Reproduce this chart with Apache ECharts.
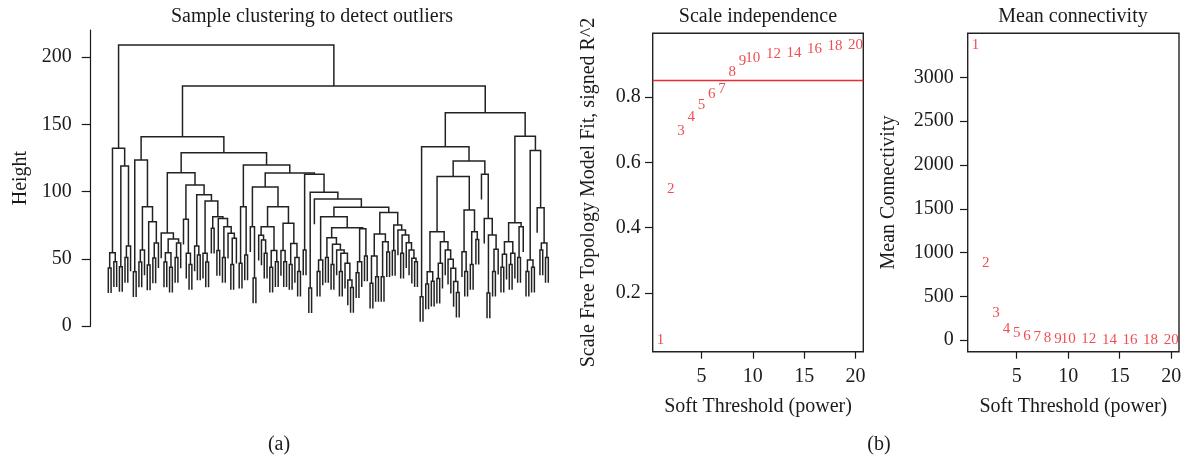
<!DOCTYPE html>
<html>
<head>
<meta charset="utf-8">
<script src="https://cdn.jsdelivr.net/npm/echarts@6/dist/echarts.min.js"></script>
<style>
  html, body { margin: 0; padding: 0; background: #ffffff; }
  #chart { width: 1188px; height: 460px; }
</style>
</head>
<body>
<div id="chart"></div>
<script>
// ---------------------------------------------------------------
// Sample clustering tree. Each merge is [height, left, right];
// a 0 marks a single sample (leaf). Branch order = drawing order.
// ---------------------------------------------------------------
const clusterA = [132.1,
  [54.5, [43.2, 0, 0], [47.8, 0, 0]],
  [118.9, [44.1, 0, 0], [59.5, [50.9, 0, 0], 0]]
];

const clusterC1 = [123.4,
  [40.3, 0, 0],
  [88.7,
    [56.5, [47.6, 0, 0], 0],
    [77.5, [45.3, 0, 0], [61.8, [50.5, 0, 0], 0]]
  ]
];

const clusterC2aLeft = [69.1, 0,
  [64.6,
    [54.5, [47.6, 0, 0], [43.7, 0, 0]],
    [61.7, [50.9, 0, 0], 0]
  ]
];

const clusterC2aRight = [104.8,
  [79.3, 0, [54.1, 0, [45.7, 0, 0]]],
  [97.5,
    [59.5, 0, [52.8, 0, 0]],
    [93.0,
      [54.1, 0, [47.6, 0, 0]],
      [81.3,
        [72.6, 0, 0],
        [80.0,
          [56.1, 0, 0],
          [73.8, [50.9, 0, 0], [68.9, 0, [65.2, [45.7, 0, 0], 0]]]
        ]
      ]
    ]
  ]
];

const clusterC2bLeft = [88.7, [46.6, 0, 0], [52.8, 0, 0]];

const clusterC2bMid = [103.4,
  [73.8, 0, [35.7, 0, 0]],
  [88.7,
    [73.8, [67.5, 0, [63.9, 0, [54.1, 0, 0]]], [56.1, [43.7, 0, 0], [47.8, 0, 0]]],
    [76.4, [56.1, 0, [47.8, 0, 0]], [61.3, [45.7, 0, 0], [50.9, 0, [40.6, 0, 0]]]]
  ]
];

const clusterQ8 = [65.7, [50.9, 0, 0],
  [60.8, [45.7, 0, 0],
    [56.5, 0, [54.1, [40.6, 0, 0], [46.6, 0, [34.2, 0, [28.6, 0, 0]]]]]
  ]
];
const clusterQ9 = [72.3, [47.8, [39.5, 0, 0], 0], [52.0, 0, 0]];
const clusterQ12 = [52.0, [31.8, 0, 0], [36.7, 0, 0]];
const clusterQ13 = [62.7, [36.7, 0, 0], [55.1, 0, 0]];
const clusterQ11 = [75.1, [56.1, 0, 0],
  [71.4, 0, [67.7, [54.1, 0, 0], [61.9, 0, [56.5, 0, [50.3, 0, [47.8, 0, 0]]]]]]
];

const clusterQ = [99.4,
  [28.3, 0, 0],
  [94.4, 0,
    [88.2,
      [81.3, [49.1, [40.6, 0, 0], 0], [73.1, clusterQ8, clusterQ9]],
      [84.3, [68.4, clusterQ12, clusterQ13], clusterQ11]
    ]
  ]
];

const clusterD1 = [133.3,
  [21.8, 0, 0],
  [122.7,
    [111.1,
      [70.1,
        [40.3, [31.2, 0, 0], [33.3, 0, 0]],
        [62.7, [46.6, [35.4, 0, 0], 0], [56.5, 0, [49.6, 0, [42.9, 0, [33.0, 0, [25.0, 0, 0]]]]]]
      ],
      [86.2, [55.2, 0, [40.6, 0, 0]], [70.1, [45.7, 0, 0], [64.4, 0, 0]]]
    ],
    [112.8, 0, [80.0, 0, [67.7, [24.5, 0, 0], [57.1, [40.6, 0, 0], 0]]]]
  ]
];

const clusterD2 = [141.0,
  [76.8,
    [62.7, [53.3, [43.7, 0, 0], 0], [54.1, [45.7, 0, 0], 0]],
    [73.8, [50.9, 0, 0], 0]
  ],
  [130.4,
    [49.1, [40.6, 0, 0], [43.7, 0, 0]],
    [88.0, 0, [61.7, [56.5, 0, 0], [50.9, 0, 0]]]
  ]
];

// upper merges joining the clusters above
const clusterC2 = [128.8,
  [114.0, clusterC2aLeft, clusterC2aRight],
  [119.7, clusterC2bLeft, [113.8, clusterC2bMid, [112.8, [56.5, 0, 0], clusterQ]]]
];
const clusterC = [140.7, clusterC1, clusterC2];
const clusterD = [158.6, clusterD1, clusterD2];
const sampleTree = [209.0, clusterA, [178.4, clusterC, clusterD]];

const heightTicks = [0, 50, 100, 150, 200];

// ---------------------------------------------------------------
// Soft-threshold scan
// ---------------------------------------------------------------
const powers = [1, 2, 3, 4, 5, 6, 7, 8, 9, 10, 12, 14, 16, 18, 20];
const scaleFreeFit = [0.056, 0.518, 0.697, 0.740, 0.776, 0.809, 0.824, 0.875, 0.909, 0.919, 0.932, 0.935, 0.947, 0.957, 0.959];
const meanConnectivity = [3370, 880, 312, 130, 80, 45, 35, 22, 16, 13, 8, 5.5, 4, 3, 2];
const fitCutoff = 0.85;
const powerTicks = [5, 10, 15, 20];
const fitTicks = [0.2, 0.4, 0.6, 0.8];
const connectivityTicks = [0, 500, 1000, 1500, 2000, 2500, 3000];

// ---------------------------------------------------------------
// Dendrogram layout: leaves at 0..n-1, merges centred over children,
// leaves hang 10% of the merge-height range below their parent.
// ---------------------------------------------------------------
function collectHeights(node, out) {
  if (node === 0) return out;
  out.push(node[0]);
  collectHeights(node[1], out);
  collectHeights(node[2], out);
  return out;
}
const mergeHeights = collectHeights(sampleTree, []);
const hang = 0.1 * (Math.max(...mergeHeights) - Math.min(...mergeHeights));

let leafCount = 0;
const branches = [];
function place(node) {
  if (node === 0) return { x: leafCount++, h: null };
  const h = node[0];
  const l = place(node[1]);
  const r = place(node[2]);
  const ly = l.h === null ? h - hang : l.h;
  const ry = r.h === null ? h - hang : r.h;
  branches.push({ coords: [[l.x, ly], [l.x, h], [r.x, h], [r.x, ry]] });
  return { x: (l.x + r.x) / 2, h: h };
}
place(sampleTree);
const leafPad = 0.04 * (leafCount - 1);

// R-style 4% axis extension
function padded(values) {
  const lo = Math.min(...values), hi = Math.max(...values);
  const d = 0.04 * (hi - lo);
  return [lo - d, hi + d];
}
const powerRange = padded(powers);
const fitRange = padded(scaleFreeFit);
const connRange = padded(meanConnectivity);

// ---------------------------------------------------------------
const FONT = '"Liberation Serif", "DejaVu Serif", serif';
const INK = '#1a1a1a';
const RED = '#ea1f27';

function labelStyle(margin, values, fmt) {
  return {
    show: true, customValues: values, margin: margin,
    color: INK, fontFamily: FONT, fontSize: 20,
    formatter: fmt || (v => String(v))
  };
}
function tickStyle(values, len) {
  return { show: true, customValues: values, length: len, inside: false,
           lineStyle: { color: INK, width: 1.2 } };
}
function textLabel(fmt) {
  return {
    show: true, position: 'inside', formatter: fmt,
    color: RED, fontFamily: FONT, fontSize: 15
  };
}
const axisName = { color: INK, fontFamily: FONT, fontSize: 20 };
const hiddenLine = { show: false, onZero: false };

const chart = echarts.init(document.getElementById('chart'), null, { renderer: 'canvas' });

chart.setOption({
  animation: false,
  backgroundColor: '#ffffff',
  textStyle: { fontFamily: FONT },
  grid: [
    { left: 90.7, right: 622.1, top: 30.1, bottom: 134, show: false,
      containLabel: false, outerBoundsMode: 'none' },
    { left: 652.7, width: 210.6, top: 33.3, height: 318.4, show: true,
      borderColor: '#222', borderWidth: 1.4, backgroundColor: 'transparent',
      containLabel: false, outerBoundsMode: 'none' },
    { left: 967.7, width: 211.3, top: 33.3, height: 318.4, show: true,
      borderColor: '#222', borderWidth: 1.4, backgroundColor: 'transparent',
      containLabel: false, outerBoundsMode: 'none' }
  ],
  xAxis: [
    { gridIndex: 0, type: 'value', min: -leafPad, max: leafCount - 1 + leafPad, show: false,
      axisLine: hiddenLine },
    { gridIndex: 1, type: 'value', position: 'bottom', min: powerRange[0], max: powerRange[1],
      axisLine: hiddenLine, splitLine: { show: false },
      axisTick: tickStyle(powerTicks, 7), axisLabel: labelStyle(15, powerTicks),
      name: 'Soft Threshold (power)', nameLocation: 'middle', nameGap: 45,
      nameTextStyle: axisName },
    { gridIndex: 2, type: 'value', position: 'bottom', min: powerRange[0], max: powerRange[1],
      axisLine: hiddenLine, splitLine: { show: false },
      axisTick: tickStyle(powerTicks, 7), axisLabel: labelStyle(15, powerTicks),
      name: 'Soft Threshold (power)', nameLocation: 'middle', nameGap: 45,
      nameTextStyle: axisName }
  ],
  yAxis: [
    { gridIndex: 0, type: 'value', position: 'left', min: 0, max: 220,
      axisLine: { show: true, onZero: false, lineStyle: { color: INK, width: 1.2 } },
      splitLine: { show: false },
      axisTick: tickStyle(heightTicks, 9), axisLabel: labelStyle(19, heightTicks),
      name: 'Height', nameLocation: 'middle', nameGap: 60,
      nameTextStyle: axisName },
    { gridIndex: 1, type: 'value', position: 'left', min: fitRange[0], max: fitRange[1],
      axisLine: hiddenLine, splitLine: { show: false },
      axisTick: tickStyle(fitTicks, 7.7), axisLabel: labelStyle(12, fitTicks, v => v.toFixed(1)),
      name: 'Scale Free Topology Model Fit, signed R^2', nameLocation: 'middle', nameGap: 54,
      nameTextStyle: axisName },
    { gridIndex: 2, type: 'value', position: 'left', min: connRange[0], max: connRange[1],
      axisLine: hiddenLine, splitLine: { show: false },
      axisTick: tickStyle(connectivityTicks, 7.7), axisLabel: labelStyle(14, connectivityTicks),
      name: 'Mean Connectivity', nameLocation: 'middle', nameGap: 69,
      nameTextStyle: axisName }
  ],
  series: [
    { type: 'lines', coordinateSystem: 'cartesian2d', xAxisIndex: 0, yAxisIndex: 0,
      polyline: true, silent: true, data: branches,
      lineStyle: { color: '#222222', width: 1.5, opacity: 1 } },
    { type: 'scatter', xAxisIndex: 1, yAxisIndex: 1, silent: true,
      data: powers.map((p, i) => [p, scaleFreeFit[i]]),
      symbolSize: 1, itemStyle: { color: 'transparent' },
      label: textLabel(p => p.value[0]),
      markLine: { silent: true, symbol: ['none', 'none'], label: { show: false },
        lineStyle: { color: '#ec2b31', width: 1.4, type: 'solid' },
        data: [{ yAxis: fitCutoff }] } },
    { type: 'scatter', xAxisIndex: 2, yAxisIndex: 2, silent: true,
      data: powers.map((p, i) => [p, meanConnectivity[i]]),
      symbolSize: 1, itemStyle: { color: 'transparent' },
      label: textLabel(p => p.value[0]) }
  ],
  graphic: [
    { type: 'text', x: 312, y: 17, style: { text: 'Sample clustering to detect outliers', fill: INK,
      font: '20px ' + FONT, align: 'center', verticalAlign: 'middle' } },
    { type: 'text', x: 758, y: 17, style: { text: 'Scale independence', fill: INK,
      font: '20px ' + FONT, align: 'center', verticalAlign: 'middle' } },
    { type: 'text', x: 1073, y: 17, style: { text: 'Mean connectivity', fill: INK,
      font: '20px ' + FONT, align: 'center', verticalAlign: 'middle' } },
    { type: 'text', x: 279, y: 445, style: { text: '(a)', fill: INK,
      font: '20px ' + FONT, align: 'center', verticalAlign: 'middle' } },
    { type: 'text', x: 879, y: 445, style: { text: '(b)', fill: INK,
      font: '20px ' + FONT, align: 'center', verticalAlign: 'middle' } }
  ]
});
</script>
</body>
</html>
